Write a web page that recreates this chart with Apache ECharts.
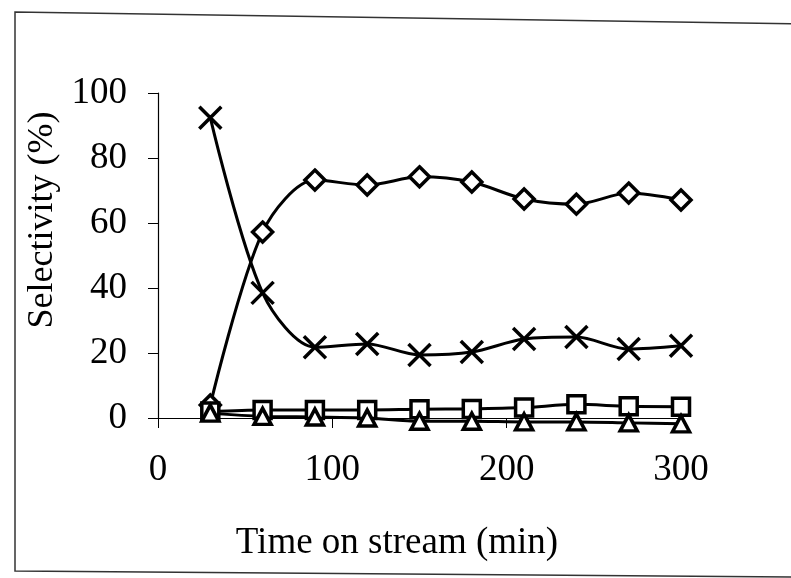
<!DOCTYPE html>
<html><head><meta charset="utf-8">
<script src="https://cdn.jsdelivr.net/npm/echarts@6/dist/echarts.min.js"></script>
<style>html,body{margin:0;padding:0;background:#fff}#c{width:791px;height:578px}</style>
</head><body><div id="c"></div>
<script>
const times = [30, 60, 90, 120, 150, 180, 210, 240, 270, 300];
const diamondVals = [4, 57.2, 73.2, 71.7, 74.2, 72.6, 67.4, 65.8, 69.2, 67.1];
const crossVals = [92.4, 38.5, 21.8, 22.8, 19.4, 20.3, 24.3, 24.9, 21.2, 22.2];
const squareVals = [2, 2.5, 2.5, 2.5, 2.7, 2.8, 3.2, 4.2, 3.6, 3.5];
const triangleVals = [1.5, 0.5, 0.3, 0, -1, -1, -1.2, -1.2, -1.5, -1.8];
const xTicks = [0, 100, 200, 300];
const yTicks = [0, 20, 40, 60, 80, 100];
const xTitle = 'Time on stream (min)';
const yTitle = 'Selectivity (%)';

const FONT = '"Liberation Serif","Times New Roman",serif';
const pair = v => times.map((t, i) => [t, v[i]]);
const crossPath = 'path://M0,0L10,10M10,0L0,10';
function mk(name, vals, symbol, size) {
  return {
    name, type: 'line', data: pair(vals), smooth: 0.3, clip: false,
    symbol, symbolSize: size, showAllSymbol: true,
    lineStyle: {color: '#000', width: 3},
    itemStyle: {color: '#fff', borderColor: '#000', borderWidth: 3.5},
    emphasis: {disabled: true}
  };
}
const chart = echarts.init(document.getElementById('c'));
chart.setOption({
  animation: false,
  backgroundColor: '#fff',
  grid: {left: 158, top: 93, right: 110, bottom: 160, containLabel: false},
  xAxis: {
    type: 'value', min: xTicks[0], max: xTicks[xTicks.length - 1], interval: 100,
    axisLine: {show: true, lineStyle: {color: '#000', width: 1.2}},
    axisTick: {show: true, inside: false, length: 10, lineStyle: {color: '#000'}},
    splitLine: {show: false},
    axisLabel: {margin: 34, color: '#000', fontFamily: FONT, fontSize: 37}
  },
  yAxis: {
    type: 'value', min: yTicks[0], max: yTicks[yTicks.length - 1], interval: 20,
    axisLine: {show: true, lineStyle: {color: '#000', width: 1.2}},
    axisTick: {show: true, inside: false, length: 10, lineStyle: {color: '#000'}},
    splitLine: {show: false},
    axisLabel: {margin: 31, color: '#000', fontFamily: FONT, fontSize: 37}
  },
  series: [
    mk('diamond', diamondVals, 'diamond', [20, 20]),
    mk('cross', crossVals, crossPath, [22, 22]),
    mk('square', squareVals, 'rect', [17, 17]),
    mk('triangle', triangleVals, 'triangle', [17, 16])
  ],
  graphic: [
    {type: 'polyline', shape: {points: [[800, 24], [15, 12], [15, 571], [800, 577]]},
     style: {stroke: '#333', lineWidth: 1.5, fill: null}, silent: true},
    {type: 'text', x: 43, y: 220, rotation: Math.PI / 2,
     style: {text: yTitle, font: '36px ' + FONT, fill: '#000', align: 'center', verticalAlign: 'middle'}},
    {type: 'text', x: 397, y: 543,
     style: {text: xTitle, font: '37px ' + FONT, fill: '#000', align: 'center', verticalAlign: 'middle'}}
  ]
});
</script></body></html>
